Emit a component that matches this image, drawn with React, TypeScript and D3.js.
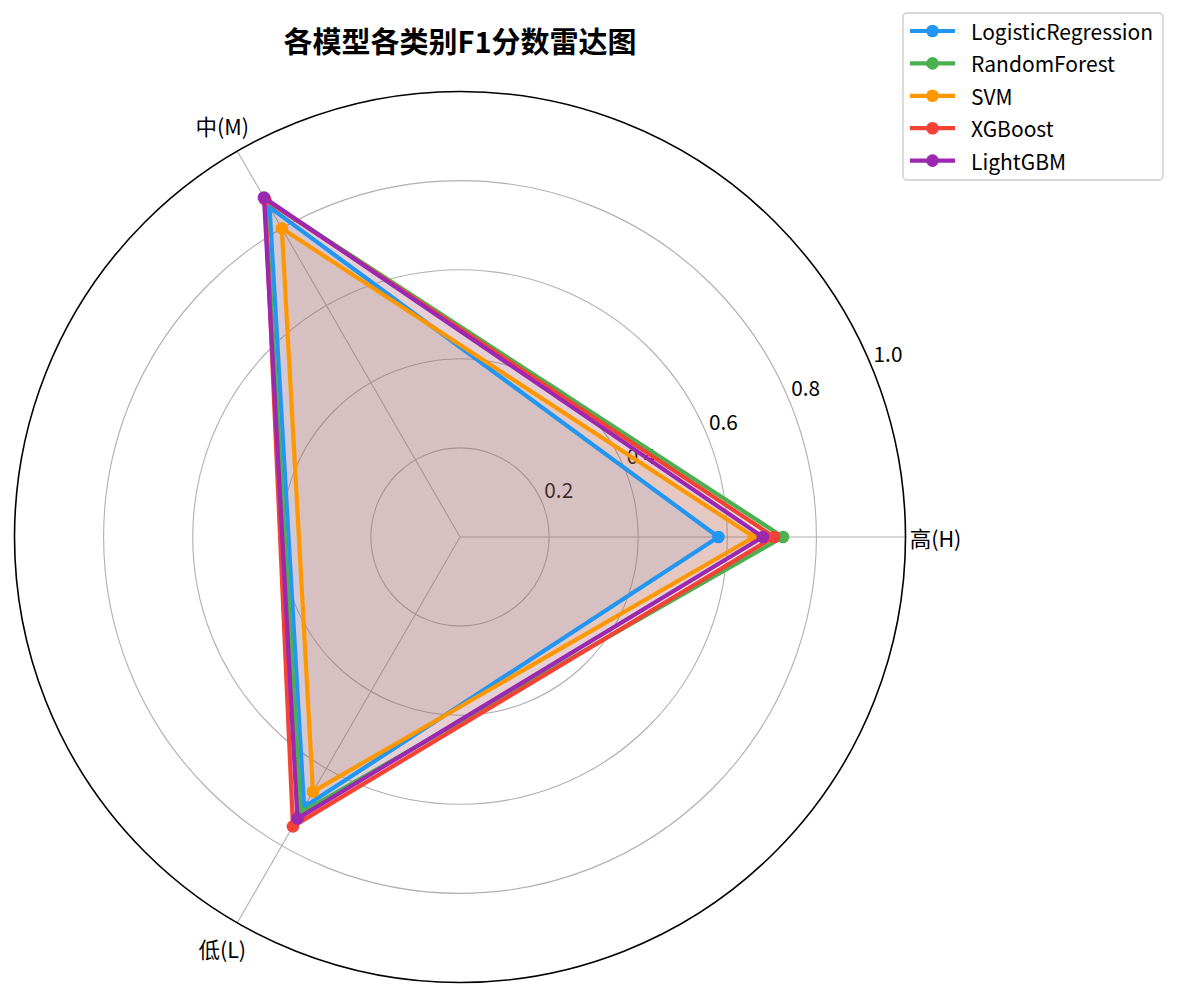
import * as d3 from "d3";
import React from "react";

// categories (counter-clockwise from the right, like matplotlib polar)
const categories = ["高(H)", "中(M)", "低(L)"];
const models = ["LogisticRegression", "RandomForest", "SVM", "XGBoost", "LightGBM"];
const colors = ["#2196F3", "#4CAF50", "#FF9800", "#F44336", "#9C27B0"];

// F1 per model, order: H, M, L
const lrScores = [0.58, 0.855, 0.7];
const rfScores = [0.725, 0.875, 0.715];
const svmScores = [0.66, 0.8, 0.66];
const xgbScores = [0.705, 0.875, 0.75];
const lgbmScores = [0.68, 0.88, 0.73];
const allScores = [lrScores, rfScores, svmScores, xgbScores, lgbmScores];

const rTicks = [0.2, 0.4, 0.6, 0.8, 1.0];

const W = 1178;
const H = 995;
const cx = 460;
const cy = 537;
const R = 445.5;
const font = "'Noto Sans CJK SC', 'Noto Sans', sans-serif";

export default function App() {
  const r = d3.scaleLinear().domain([0, 1]).range([0, R]);
  const theta = (i: number) => (2 * Math.PI * i) / categories.length;
  // d3 radial angle: 0 at 12 o'clock, clockwise
  const line = d3
    .lineRadial<number>()
    .angle((_, i) => Math.PI / 2 - theta(i))
    .radius((d) => r(d))
    .curve(d3.curveLinearClosed);

  const pt = (v: number, i: number) => [
    r(v) * Math.cos(theta(i)),
    -r(v) * Math.sin(theta(i)),
  ];

  const labelAng = (22.5 * Math.PI) / 180;

  return (
    <svg
      width={W}
      height={H}
      style={{ position: "absolute", left: 0, top: 0, background: "#fff" }}
      fontFamily={font}
    >
      <text
        x={cx}
        y={53}
        textAnchor="middle"
        fontSize={29}
        fontWeight="bold"
        fill="#000"
      >
        各模型各类别F1分数雷达图
      </text>

      <g transform={`translate(${cx},${cy})`}>
        {/* grid circles */}
        {rTicks.slice(0, -1).map((t) => (
          <circle key={t} r={r(t)} fill="none" stroke="#b0b0b0" strokeWidth={1.1} />
        ))}
        {/* spokes */}
        {categories.map((c, i) => {
          const [x, y] = pt(1, i);
          return <line key={c} x1={0} y1={0} x2={x} y2={y} stroke="#b0b0b0" strokeWidth={1.1} />;
        })}
        {/* outer spine */}
        <circle r={r(1)} fill="none" stroke="#000" strokeWidth={1.6} />

        {/* radial tick labels */}
        {rTicks.map((t) => (
          <text
            key={t}
            x={r(t) * Math.cos(labelAng) + 2}
            y={-r(t) * Math.sin(labelAng) - 5}
            fontSize={20.8}
            fill="#000"
          >
            {t.toFixed(1)}
          </text>
        ))}

        {/* category labels */}
        {categories.map((c, i) => {
          const [x, y] = pt(1, i);
          const len = Math.hypot(x, y);
          const off = 30;
          return (
            <text
              key={c}
              x={x + (x / len) * off}
              y={y + (y / len) * off}
              textAnchor="middle"
              dominantBaseline="central"
              fontSize={21.5}
              fill="#000"
            >
              {c}
            </text>
          );
        })}

        {/* fills */}
        {allScores.map((s, k) => (
          <path key={models[k]} d={line(s) ?? ""} fill={colors[k]} fillOpacity={0.1} stroke="none" />
        ))}
        {/* lines + markers */}
        {allScores.map((s, k) => (
          <g key={models[k]}>
            <path
              d={line(s) ?? ""}
              fill="none"
              stroke={colors[k]}
              strokeWidth={4.2}
              strokeLinejoin="round"
            />
            {s.map((v, i) => {
              const [x, y] = pt(v, i);
              return <circle key={i} cx={x} cy={y} r={6.3} fill={colors[k]} />;
            })}
          </g>
        ))}
      </g>

      {/* legend */}
      <g transform="translate(903,13)">
        <rect
          width={260}
          height={167}
          rx={4}
          fill="#fff"
          fillOpacity={0.8}
          stroke="#cccccc"
          strokeWidth={1.4}
        />
        {models.map((m, k) => {
          const y = 18 + k * 32.4;
          return (
            <g key={m} transform={`translate(0,${y})`}>
              <line x1={7} x2={52} y1={0} y2={0} stroke={colors[k]} strokeWidth={4.2} />
              <circle cx={29.5} cy={0} r={6.3} fill={colors[k]} />
              <text x={68} y={0} dominantBaseline="central" fontSize={21} fill="#000">
                {m}
              </text>
            </g>
          );
        })}
      </g>
    </svg>
  );
}
